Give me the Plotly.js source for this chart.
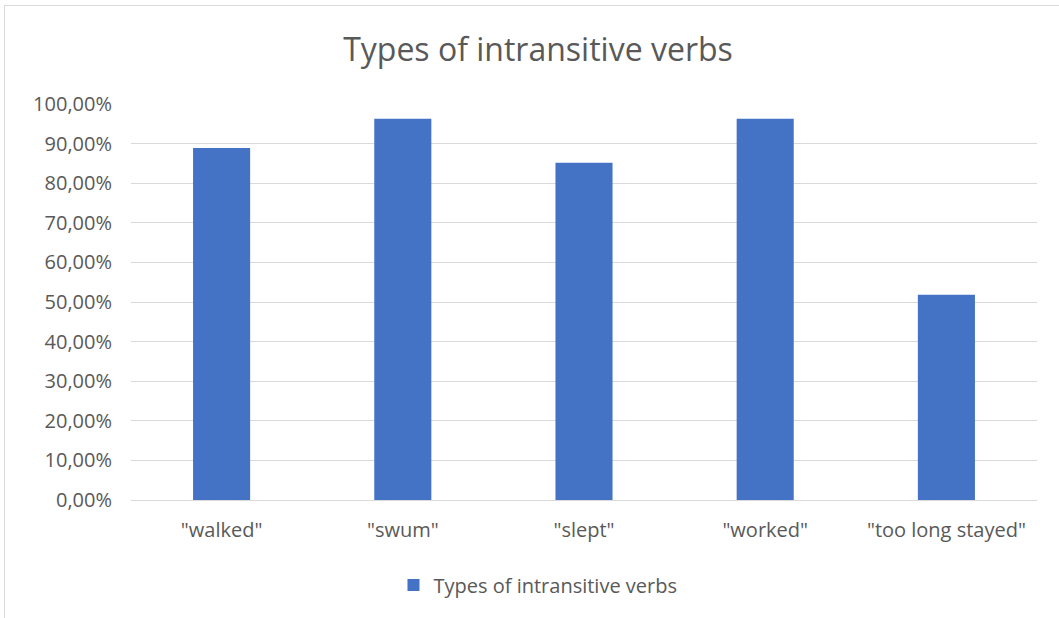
<!DOCTYPE html>
<html>
<head>
<meta charset="utf-8">
<script src="https://cdn.plot.ly/plotly-3.0.1.min.js"></script>
<style>
  html, body { margin: 0; padding: 0; background: #ffffff; overflow: hidden; }
  #frame { position: absolute; left: 4px; top: 5px; width: 1100px; height: 700px; border: 1px solid #d9d9d9; box-sizing: border-box; }
  #chart { position: absolute; left: 0; top: 0; width: 1059px; height: 618px; }
</style>
</head>
<body>
<div id="frame"></div>
<div id="chart"></div>
<script>
const categories = ['"walked"', '"swum"', '"slept"', '"worked"', '"too long stayed"'];
const seriesName = 'Types of intransitive verbs';
const values = [0.8889, 0.9630, 0.8519, 0.9630, 0.5185];
const yTicks = [0, 0.1, 0.2, 0.3, 0.4, 0.5, 0.6, 0.7, 0.8, 0.9, 1.0];

const fontFam = 'Open Sans, Liberation Sans, sans-serif';
const trace = {
  type: 'bar',
  x: categories,
  y: values,
  name: seriesName,
  marker: { color: '#4472c4' },
  showlegend: true,
  hoverinfo: 'none'
};

const layout = {
  width: 1059,
  height: 618,
  separators: ',.',
  paper_bgcolor: 'rgba(0,0,0,0)',
  plot_bgcolor: 'rgba(0,0,0,0)',
  margin: { l: 131, r: 22, t: 104, b: 118 },
  bargap: 0.685,
  title: {
    text: 'Types of intransitive verbs',
    font: { family: fontFam, size: 32, color: '#595959' },
    x: 0.508, xanchor: 'center',
    y: 1 - 50 / 618, yanchor: 'middle', yref: 'container'
  },
  xaxis: {
    tickfont: { family: fontFam, size: 20, color: '#595959' },
    showline: false,
    ticks: '',
    ticklabelstandoff: 16
  },
  yaxis: {
    range: [0, 1.0],
    tickvals: yTicks,
    tickformat: '.2%',
    tickfont: { family: fontFam, size: 20, color: '#595959' },
    gridcolor: '#d9d9d9',
    gridwidth: 1,
    zeroline: true,
    zerolinecolor: '#d9d9d9',
    zerolinewidth: 1,
    showline: false,
    ticks: '',
    ticklabelstandoff: 18
  },
  legend: {
    orientation: 'h',
    x: 0.508, xanchor: 'center', xref: 'container',
    y: 1 - 585 / 618, yanchor: 'middle', yref: 'container',
    font: { family: fontFam, size: 20, color: '#595959' },
    bgcolor: 'rgba(0,0,0,0)'
  }
};

Plotly.newPlot('chart', [trace], layout, { displayModeBar: false, staticPlot: true });
</script>
</body>
</html>
